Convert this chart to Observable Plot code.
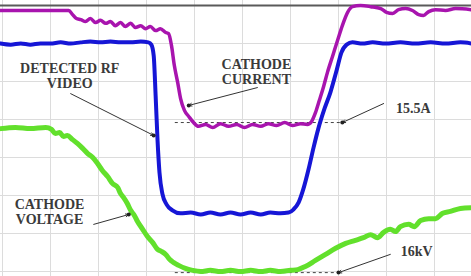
<!DOCTYPE html>
<html>
<head>
<meta charset="utf-8">
<script src="https://cdn.jsdelivr.net/npm/d3@7"></script>
<script src="https://cdn.jsdelivr.net/npm/@observablehq/plot@0.6"></script>
<style>
  html, body { margin: 0; padding: 0; background: #fff; }
  #chart svg { display: block; background: #fff; }
</style>
</head>
<body>
<div id="chart"></div>
<script>
// Time axis in oscilloscope divisions, amplitude in vertical divisions
const gridX = [0, 1, 2, 3, 4, 5, 6, 7, 8, 9];
const gridY = [0, 1, 2, 3, 4, 5, 6];
const topBorder = [7];

// Cathode current (magenta)
const currentT = [-0.04,1.38,1.46,1.54,1.63,1.73,1.83,1.94,2.04,2.15,2.25,2.35,2.46,2.56,2.67,2.77,2.88,2.98,3.08,3.19,3.29,3.40,3.46,3.52,3.58,3.65,3.71,3.79,3.88,3.98,4.08,4.23,4.38,4.54,4.71,4.88,5.04,5.21,5.38,5.54,5.71,5.88,6.04,6.21,6.35,6.44,6.52,6.60,6.69,6.77,6.88,6.98,7.08,7.19,7.29,7.46,7.67,7.88,8.00,8.13,8.25,8.40,8.54,8.67,8.77,8.88,9.02,9.23,9.44,9.77];
const currentV = [6.87,6.87,6.76,6.66,6.63,6.58,6.66,6.55,6.61,6.53,
  6.58,6.47,6.55,6.45,6.53,6.42,6.47,6.39,6.45,6.34,
  6.39,6.29,6.26,5.95,5.42,4.97,4.55,4.24,4.08,3.92,
  3.82,3.87,3.79,3.89,3.82,3.87,3.79,3.87,3.82,3.89,
  3.84,3.92,3.84,3.89,3.87,3.95,4.18,4.50,4.87,5.24,
  5.68,6.08,6.47,6.82,6.97,7.00,6.97,6.92,6.82,6.79,
  6.89,6.92,6.87,6.76,6.74,6.84,6.89,6.87,6.92,6.89];

// Detected RF video (blue)
const videoT = [-0.04,0.17,0.38,0.58,0.79,1.00,1.21,1.42,1.63,1.83,2.04,2.25,2.46,2.67,2.88,3.04,3.10,3.15,3.19,3.23,3.27,3.33,3.42,3.54,3.71,3.92,4.13,4.33,4.54,4.75,4.96,5.17,5.38,5.58,5.79,5.96,6.06,6.17,6.27,6.38,6.48,6.58,6.71,6.83,6.96,7.06,7.17,7.29,7.50,7.71,7.98,8.29,8.60,8.92,9.23,9.54,9.77];
const videoV = [6.00,5.97,6.00,5.97,6.00,6.00,6.03,6.00,6.03,6.05,
  6.03,6.05,6.03,6.03,6.05,6.03,5.97,5.68,4.63,3.45,
  2.61,2.05,1.76,1.61,1.53,1.55,1.50,1.55,1.50,1.55,
  1.50,1.55,1.50,1.55,1.53,1.55,1.63,1.82,2.18,2.71,
  3.26,3.76,4.29,4.71,5.29,5.76,5.97,6.03,6.00,6.03,
  6.00,6.03,6.00,6.03,6.00,6.03,6.00];

// Cathode voltage (green)
const voltageT = [-0.04,0.27,0.58,0.90,1.02,1.10,1.19,1.27,1.35,1.46,1.56,1.67,1.77,1.88,1.98,2.08,2.19,2.29,2.40,2.46,2.52,2.60,2.67,2.75,2.81,2.92,3.02,3.13,3.23,3.31,3.40,3.48,3.56,3.67,3.81,3.96,4.13,4.33,4.54,4.75,4.96,5.17,5.38,5.58,5.79,6.00,6.15,6.31,6.52,6.73,6.94,7.15,7.35,7.52,7.67,7.81,7.94,8.08,8.19,8.29,8.46,8.58,8.71,8.88,9.02,9.17,9.33,9.54,9.77];
const voltageV = [3.76,3.79,3.76,3.79,3.74,3.63,3.66,3.55,3.58,3.47,
  3.37,3.24,3.11,3.00,2.84,2.66,2.50,2.32,2.21,2.05,
  1.95,1.79,1.61,1.47,1.32,1.11,0.92,0.76,0.58,0.53,
  0.45,0.32,0.24,0.16,0.08,0.03,0.00,0.03,0.00,0.03,
  0.00,0.03,0.00,0.03,0.00,0.03,0.05,0.13,0.29,0.45,
  0.61,0.74,0.82,0.89,0.97,0.89,1.03,1.11,1.05,1.18,
  1.24,1.18,1.34,1.39,1.39,1.53,1.58,1.66,1.68];

// Dashed reference levels (15.5A current, 16kV voltage)
const refLevels = [
  {x1: 3.60, x2: 7.15, y: 3.92},
  {x1: 3.60, x2: 7.04, y: -0.03}
];

// Annotations
const labels = [
  {x: 1.40, y: 5.16, text: "DETECTED RF\nVIDEO"},
  {x: 5.29, y: 5.26, text: "CATHODE\nCURRENT"},
  {x: 8.56, y: 4.29, text: "15.5A"},
  {x: 0.98, y: 1.58, text: "CATHODE\nVOLTAGE"},
  {x: 8.63, y: 0.53, text: "16kV"}
];
const pointers = [
  {x1: 1.42, y1: 4.68, x2: 3.15, y2: 3.58},
  {x1: 5.31, y1: 4.84, x2: 3.88, y2: 4.37},
  {x1: 7.94, y1: 4.42, x2: 7.08, y2: 3.92},
  {x1: 1.90, y1: 1.24, x2: 2.63, y2: 1.50},
  {x1: 8.08, y1: 0.45, x2: 7.00, y2: -0.03}
];

const current = currentT.map((t, i) => ({t, v: currentV[i]}));
const video = videoT.map((t, i) => ({t, v: videoV[i]}));
const voltage = voltageT.map((t, i) => ({t, v: voltageV[i]}));

const chart = Plot.plot({
  width: 471,
  height: 276,
  margin: 0,
  x: {domain: [-0.042, 9.771], axis: null},
  y: {domain: [-0.132, 7.132], axis: null},
  style: {background: "#fff"},
  marks: [
    Plot.ruleX(gridX, {stroke: "#dcdcdc", strokeWidth: 1}),
    Plot.ruleY(gridY, {stroke: "#dcdcdc", strokeWidth: 1}),
    Plot.ruleY(topBorder, {stroke: "#5a5a5a", strokeWidth: 2}),
    Plot.ruleY(refLevels, {x1: "x1", x2: "x2", y: "y", stroke: "#444", strokeWidth: 1, strokeDasharray: "3,3"}),
    Plot.line(voltage, {x: "t", y: "v", stroke: "#62e02c", strokeWidth: 5, curve: "monotone-x"}),
    Plot.line(current, {x: "t", y: "v", stroke: "#a814ae", strokeWidth: 3.5, curve: "monotone-x"}),
    Plot.line(video, {x: "t", y: "v", stroke: "#1616d6", strokeWidth: 4, curve: "monotone-x"}),
    Plot.arrow(pointers, {x1: "x1", y1: "y1", x2: "x2", y2: "y2", stroke: "#333", strokeWidth: 1, headLength: 5, headAngle: 50}),
    Plot.dot(pointers, {x: "x2", y: "y2", r: 2, fill: "#222"}),
    Plot.text(labels, {x: "x", y: "y", text: "text", fontFamily: "Liberation Serif", fontSize: 14, fontWeight: "bold", fill: "#3a3a3a", lineHeight: 1.08, textAnchor: "middle"})
  ]
});
document.getElementById("chart").appendChild(chart);
</script>
</body>
</html>
